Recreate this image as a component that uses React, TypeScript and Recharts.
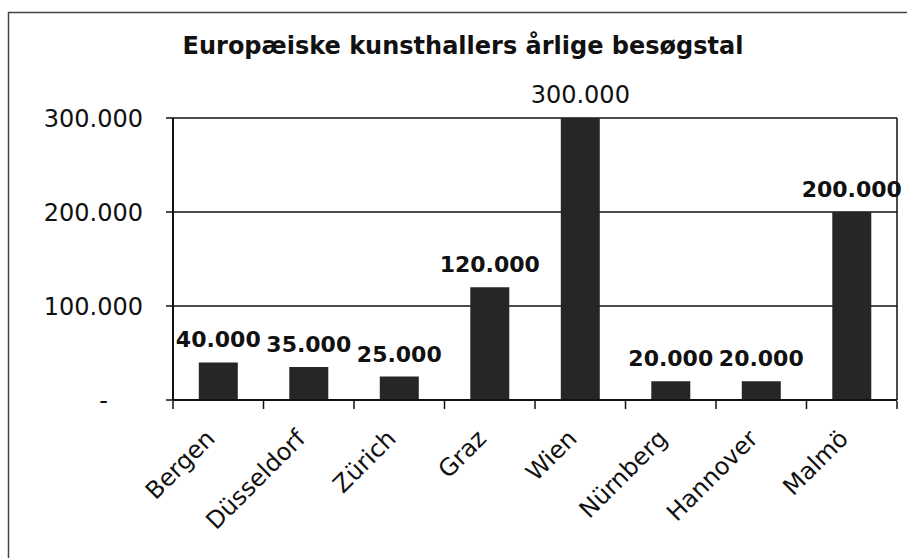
import React from 'react';
import { BarChart, Bar, XAxis, YAxis, CartesianGrid, LabelList, ReferenceLine } from 'recharts';

const title = 'Europæiske kunsthallers årlige besøgstal';
const categories = ['Bergen', 'Düsseldorf', 'Zürich', 'Graz', 'Wien', 'Nürnberg', 'Hannover', 'Malmö'];
const visitors = [40000, 35000, 25000, 120000, 300000, 20000, 20000, 200000];
const yTicks = [0, 100000, 200000, 300000];
const boundaryTicks = [0, 1, 2, 3, 4, 5, 6, 7, 8];

const data = categories.map((city, i) => ({ city, visitors: visitors[i], pos: i + 0.5 }));

const FONT = '"DejaVu Sans", Verdana, sans-serif';
const W = 907;
const H = 558;

const fmt = (v: number) => (v === 0 ? '-' : String(v).replace(/\B(?=(\d{3})+(?!\d))/g, '.'));

const YTick = (props: any) => {
  const { x, y, payload } = props;
  const isZero = payload.value === 0;
  return (
    <text x={isZero ? x - 35 : x} y={y} dy="0.355em" textAnchor="end" fontFamily={FONT} fontSize={24} fill="#111">
      {fmt(payload.value)}
    </text>
  );
};

const XTick = (props: any) => {
  const { x, y, payload } = props;
  return (
    <g transform={`translate(${x - 2},${y + 40})`}>
      <text x={0} y={0} textAnchor="end" transform="rotate(-45)" fontFamily={FONT} fontSize={24} fill="#111">
        {payload.value}
      </text>
    </g>
  );
};

const EmptyTick = () => <g />;

const ValueLabel = (props: any) => {
  const { x, y, width, value, index } = props;
  return (
    <text
      x={x + width / 2}
      y={y - 15}
      textAnchor="middle"
      fontFamily={FONT}
      fontSize={index === 4 ? 24 : 22}
      fontWeight={index === 4 ? 'normal' : 'bold'}
      fill="#111"
    >
      {fmt(value)}
    </text>
  );
};

export default function App() {
  return (
    <div style={{ position: 'absolute', left: 0, top: 0, width: W, height: H, background: '#fff' }}>
      <BarChart
        width={W}
        height={H}
        data={data}
        margin={{ top: 118, right: 10, bottom: 156, left: 0 }}
        barCategoryGap="28.5%"
      >
        <CartesianGrid vertical={false} stroke="#111" strokeWidth={1.4} />
        <XAxis
          xAxisId="ticks"
          dataKey="pos"
          type="number"
          domain={[0, 8]}
          ticks={boundaryTicks}
          height={1}
          axisLine={false}
          tickLine={{ stroke: '#111', strokeWidth: 1.5 }}
          tickSize={8}
          tick={<EmptyTick />}
          interval={0}
          allowDataOverflow
        />
        <XAxis
          xAxisId="cat"
          dataKey="city"
          height={1}
          axisLine={{ stroke: '#111', strokeWidth: 2 }}
          tickLine={false}
          tickSize={0}
          tickMargin={0}
          tick={<XTick />}
          interval={0}
        />
        <YAxis
          width={173}
          domain={[0, 300000]}
          ticks={yTicks}
          axisLine={{ stroke: '#111', strokeWidth: 2 }}
          tickLine={{ stroke: '#111', strokeWidth: 1.5 }}
          tickSize={7}
          tickMargin={23}
          tick={<YTick />}
          interval={0}
        />
        <ReferenceLine xAxisId="ticks" x={8} stroke="#111" strokeWidth={1.5} />
        <Bar xAxisId="cat" dataKey="visitors" fill="#262626" isAnimationActive={false}>
          <LabelList dataKey="visitors" content={<ValueLabel />} />
        </Bar>
      </BarChart>
      <svg width={W} height={H} style={{ position: 'absolute', left: 0, top: 0, pointerEvents: 'none' }}>
        <rect x={8.5} y={12.5} width={W + 10} height={H + 10} fill="none" stroke="#444" strokeWidth={1.5} />
        <text x={463} y={54} textAnchor="middle" fontFamily={FONT} fontSize={24} fontWeight="bold" fill="#111">
          {title}
        </text>
      </svg>
    </div>
  );
}
